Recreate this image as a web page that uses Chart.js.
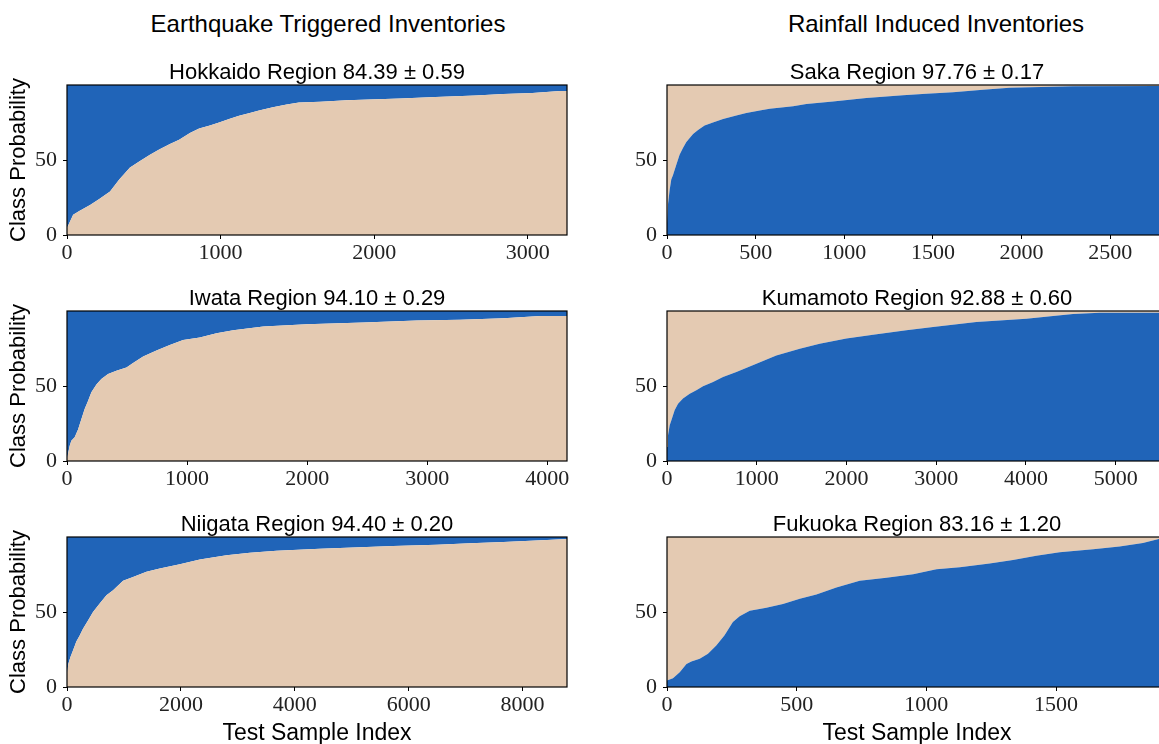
<!DOCTYPE html>
<html>
<head>
<meta charset="utf-8">
<title>Class probability per region</title>
<script src="https://cdn.jsdelivr.net/npm/chart.js@4.4.1/dist/chart.umd.min.js"></script>
<style>
  html, body { margin: 0; padding: 0; background: #fff; }
  body { width: 1159px; height: 744px; overflow: hidden; position: relative; }
  .head { position: absolute; top: 12px; width: 400px; text-align: center;
          font: 24px "Liberation Sans", Arial, sans-serif; line-height: 24px; color: #000; }
  canvas { position: absolute; }
</style>
</head>
<body>
<div class="head" style="left:128px">Earthquake Triggered Inventories</div>
<div class="head" style="left:736px">Rainfall Induced Inventories</div>

<canvas id="hokkaido" width="590" height="235" style="left:0;top:40px"></canvas>
<canvas id="saka" width="590" height="235" style="left:600px;top:40px"></canvas>
<canvas id="iwata" width="590" height="235" style="left:0;top:266px"></canvas>
<canvas id="kumamoto" width="590" height="235" style="left:600px;top:266px"></canvas>
<canvas id="niigata" width="590" height="255" style="left:0;top:492px"></canvas>
<canvas id="fukuoka" width="590" height="255" style="left:600px;top:492px"></canvas>

<script>
// sorted class probability (%), sample index -> probability
var hokkaidoIndex = [0, 40, 80, 150, 210, 280, 340, 410, 470, 540, 600, 670, 730, 800, 860, 930, 990, 1060, 1120, 1190, 1250, 1340, 1430, 1510, 1650, 1820, 2170, 2400, 2660, 2840, 3030, 3210, 3255];
var hokkaidoProb  = [4.7, 13.5, 16, 20, 24, 29, 37, 45, 49, 53.5, 57, 60.7, 63.5, 68, 71, 73, 75, 77.5, 79.5, 81.3, 83, 85.2, 87, 88.4, 88.9, 89.8, 91, 92, 93, 94, 94.7, 96, 96];

var sakaIndex = [0, 6, 15, 24, 34, 53, 71, 90, 109, 128, 147, 175, 212, 259, 316, 391, 447, 523, 579, 711, 786, 936, 1030, 1124, 1331, 1462, 1613, 1782, 1932, 2289, 2773, 2820];
var sakaProb  = [8, 21, 30, 37, 40, 47, 53.5, 58, 62, 64.7, 67.3, 70, 73, 75, 77.3, 79.6, 81.3, 83, 84.2, 85.8, 87.3, 89, 90.2, 91.3, 93.1, 94.2, 95.1, 96.9, 98.2, 99.1, 99.3, 99.4];

var iwataIndex = [0, 11, 22, 36, 64, 92, 120, 147, 175, 203, 245, 286, 342, 411, 495, 550, 634, 745, 856, 967, 1106, 1245, 1384, 1635, 1996, 2469, 2913, 3275, 3636, 3942, 4164];
var iwataProb  = [1.3, 5.8, 10, 13.5, 15.8, 21, 28, 34.7, 40, 45.8, 51, 54.7, 58, 60.2, 62.4, 65.3, 69.6, 73.6, 77.3, 80.7, 82.4, 85.1, 87.1, 89.6, 91.1, 92.4, 93.6, 94.2, 95.1, 96.7, 96.7];

var kumamotoIndex = [0, 11, 30, 48, 85, 123, 178, 253, 327, 401, 513, 624, 773, 996, 1218, 1479, 1701, 1999, 2296, 2667, 2965, 3447, 4005, 4302, 4525, 4822, 5480, 5572];
var kumamotoProb  = [9.3, 17, 23.8, 27, 33.8, 38.2, 41.6, 44.9, 47.1, 49.8, 52.7, 56, 59.3, 64.9, 70.4, 74.9, 78.2, 81.6, 84.2, 87.1, 89.3, 92.7, 94.9, 96.7, 98, 98.9, 98.9, 99];

var niigataIndex = [0, 23, 59, 105, 164, 223, 281, 369, 457, 574, 692, 809, 985, 1160, 1395, 1629, 1981, 2333, 2802, 3212, 3681, 4443, 5146, 5732, 6494, 7080, 7666, 8428, 8780];
var niigataProb  = [8.7, 15.4, 19.9, 24.3, 30.4, 34.4, 38.8, 44.4, 50, 55.6, 61.2, 64.5, 70.8, 73.4, 76.8, 79, 81.9, 85, 87.9, 89.5, 90.8, 92.2, 93.1, 94, 94.9, 95.8, 96.7, 98, 98.7];

var fukuokaIndex = [0, 23, 49, 75, 94, 126, 158, 190, 222, 254, 280, 319, 383, 447, 512, 576, 653, 743, 846, 949, 1039, 1129, 1244, 1334, 1424, 1514, 1643, 1745, 1835, 1896, 1928];
var fukuokaProb  = [4.3, 5.8, 9.8, 15.4, 17, 18.8, 22.1, 27.7, 34.5, 43.4, 47.2, 50.8, 52.8, 55.3, 58.8, 61.7, 66.4, 70.9, 72.9, 75.2, 78.5, 79.9, 82.3, 84.6, 87.5, 89.9, 91.9, 93.7, 96, 98.7, 99.3];

// tick labels
var hokkaidoTicks = [0, 1000, 2000, 3000];
var sakaTicks = [0, 500, 1000, 1500, 2000, 2500];
var iwataTicks = [0, 1000, 2000, 3000, 4000];
var kumamotoTicks = [0, 1000, 2000, 3000, 4000, 5000];
var niigataTicks = [0, 2000, 4000, 6000, 8000];
var fukuokaTicks = [0, 500, 1000, 1500];
var probTicks = [0, 50];

var BLUE = '#2064b8';
var TAN = '#e4cab2';
var SANS = '"Liberation Sans", Arial, sans-serif';
var SERIF = '"Liberation Serif", "Times New Roman", serif';

// subplot title drawn just above the plot area
var subTitle = {
    id: 'subTitle',
    afterDraw: function(chart, args, opts) {
        var ctx = chart.ctx, a = chart.chartArea;
        ctx.save();
        ctx.font = '22px ' + SANS;
        ctx.fillStyle = '#000';
        ctx.textAlign = 'center';
        ctx.textBaseline = 'alphabetic';
        ctx.fillText(opts.text, (a.left + a.right) / 2, a.top - 6);
        ctx.restore();
    }
};

// box around the axes, like matplotlib spines
var frame = {
    id: 'frame',
    afterDraw: function(chart) {
        var ctx = chart.ctx, a = chart.chartArea;
        ctx.save();
        ctx.strokeStyle = '#000';
        ctx.lineWidth = 1.2;
        ctx.strokeRect(a.left, a.top, a.right - a.left, a.bottom - a.top);
        ctx.restore();
    }
};

function makeChart(id, title, index, prob, xMax, xTicks, lower, upper, yTitle, xTitle) {
    var points = index.map(function(x, i) { return { x: x, y: prob[i] }; });
    var ctx = document.getElementById(id).getContext('2d');
    return new Chart(ctx, {
        type: 'line',
        data: {
            datasets: [{
                data: points,
                fill: 'origin',
                backgroundColor: lower,
                borderWidth: 0,
                pointRadius: 0
            }, {
                data: points,
                fill: 'end',
                backgroundColor: upper,
                borderWidth: 0,
                pointRadius: 0
            }]
        },
        options: {
            responsive: false,
            animation: false,
            events: [],
            layout: { padding: { top: 45, right: 23, left: 0, bottom: 0 } },
            plugins: {
                legend: { display: false },
                tooltip: { enabled: false },
                subTitle: { text: title }
            },
            scales: {
                x: {
                    type: 'linear',
                    min: 0,
                    max: xMax,
                    afterBuildTicks: function(axis) {
                        axis.ticks = xTicks.map(function(v) { return { value: v }; });
                    },
                    afterFit: function(axis) { axis.height = xTitle ? 60 : 40; },
                    grid: { drawOnChartArea: false, drawTicks: true, tickLength: 4, color: '#000' },
                    border: { display: false },
                    ticks: {
                        font: { family: SERIF, size: 22 },
                        color: '#222',
                        padding: 1,
                        maxRotation: 0,
                        autoSkip: false,
                        callback: function(v) { return String(v); }
                    },
                    title: {
                        display: xTitle,
                        text: 'Test Sample Index',
                        font: { family: SANS, size: 23 },
                        color: '#000',
                        padding: 0
                    }
                },
                y: {
                    min: 0,
                    max: 100,
                    afterBuildTicks: function(axis) {
                        axis.ticks = probTicks.map(function(v) { return { value: v }; });
                    },
                    afterFit: function(axis) { axis.width = 67; },
                    grid: { drawOnChartArea: false, drawTicks: true, tickLength: 4, color: '#000' },
                    border: { display: false },
                    ticks: {
                        font: { family: SERIF, size: 22 },
                        color: '#222',
                        padding: 6,
                        callback: function(v) { return String(v); }
                    },
                    title: {
                        display: yTitle,
                        text: 'Class Probability',
                        font: { family: SANS, size: 22 },
                        color: '#000',
                        padding: { top: 6, bottom: 0 }
                    }
                }
            }
        },
        plugins: [subTitle, frame]
    });
}

makeChart('hokkaido', 'Hokkaido Region 84.39 \u00b1 0.59', hokkaidoIndex, hokkaidoProb, 3255, hokkaidoTicks, TAN, BLUE, true, false);
makeChart('saka', 'Saka Region 97.76 \u00b1 0.17', sakaIndex, sakaProb, 2820, sakaTicks, BLUE, TAN, false, false);
makeChart('iwata', 'Iwata Region 94.10 \u00b1 0.29', iwataIndex, iwataProb, 4164, iwataTicks, TAN, BLUE, true, false);
makeChart('kumamoto', 'Kumamoto Region 92.88 \u00b1 0.60', kumamotoIndex, kumamotoProb, 5572, kumamotoTicks, BLUE, TAN, false, false);
makeChart('niigata', 'Niigata Region 94.40 \u00b1 0.20', niigataIndex, niigataProb, 8780, niigataTicks, TAN, BLUE, true, true);
makeChart('fukuoka', 'Fukuoka Region 83.16 \u00b1 1.20', fukuokaIndex, fukuokaProb, 1928, fukuokaTicks, BLUE, TAN, false, true);
</script>
</body>
</html>
